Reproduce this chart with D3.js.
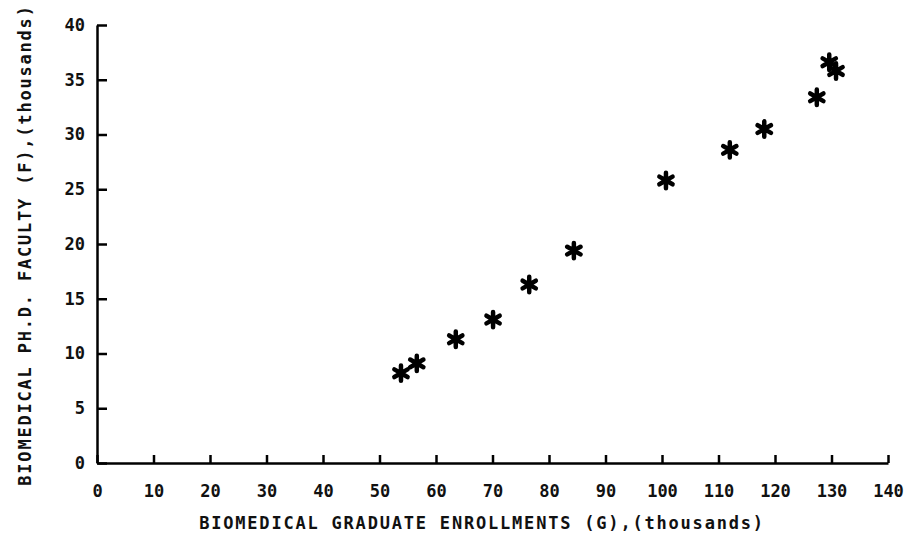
<!DOCTYPE html>
<html>
<head>
<meta charset="utf-8">
<script src="https://cdn.jsdelivr.net/npm/d3@7"></script>
<style>
  body { margin: 0; background: #fff; }
  svg { display: block; }
  .axis text { font-family: 'DejaVu Sans Mono', monospace; font-size: 17px; font-weight: bold; fill: #111; }
  .axis path, .axis line { stroke: #000; stroke-width: 2.5; }
  .axis__label { font-family: 'DejaVu Sans Mono', monospace; font-size: 17px; font-weight: bold; fill: #111; letter-spacing: 1.8px; }
</style>
</head>
<body>
<div class="chart"></div>
<script>
// biomedical graduate enrollments (G), thousands
const enrollments = [53.8, 56.6, 63.5, 70.1, 76.5, 84.4, 100.7, 112.0, 118.1, 127.4, 129.6, 130.8]
// biomedical Ph.D. faculty (F), thousands
const faculty = [8.2, 9.1, 11.3, 13.1, 16.3, 19.4, 25.8, 28.6, 30.5, 33.4, 36.6, 35.8]

const xTicks = [0, 10, 20, 30, 40, 50, 60, 70, 80, 90, 100, 110, 120, 130, 140]
const yTicks = [0, 5, 10, 15, 20, 25, 30, 35, 40]

const X_LABEL = 'BIOMEDICAL GRADUATE ENROLLMENTS (G),(thousands)'
const Y_LABEL = 'BIOMEDICAL PH.D. FACULTY (F),(thousands)'

const W = 913
const H = 539
const margin = {top: 25, right: 25, bottom: 76, left: 97}
const width = W - margin.left - margin.right
const height = H - margin.top - margin.bottom

const data = enrollments.map((g, i) => ({ g, f: faculty[i] }))

const svg = d3.select('.chart').append('svg')
  .attr('width', W)
  .attr('height', H)

const g = svg.append('g')
  .attr('transform', `translate(${margin.left},${margin.top})`)

const scaleX = d3.scaleLinear().domain([0, 140]).range([0, width])
const scaleY = d3.scaleLinear().domain([0, 40]).range([height, 0])

const axisBottom = d3.axisBottom(scaleX)
  .tickValues(xTicks)
  .tickSizeInner(-8)
  .tickSizeOuter(0)
  .tickPadding(22)

const axisLeft = d3.axisLeft(scaleY)
  .tickValues(yTicks)
  .tickSizeInner(-10)
  .tickSizeOuter(0)
  .tickPadding(12)

const x = g.append('g')
  .attr('class', 'axis axis--x')
  .attr('transform', `translate(0,${height})`)
  .call(axisBottom)

const y = g.append('g')
  .attr('class', 'axis axis--y')
  .call(axisLeft)

x.append('text').attr('class', 'axis__label')
  .attr('x', 385)
  .attr('y', 66)
  .attr('text-anchor', 'middle')
  .text(X_LABEL)

y.append('text').attr('class', 'axis__label')
  .attr('transform', 'rotate(-90)')
  .attr('x', -220)
  .attr('y', -66)
  .attr('text-anchor', 'middle')
  .text(Y_LABEL)

const star = d3.symbol().type(d3.symbolAsterisk).size(165)

g.append('g').attr('class', 'g-plot')
  .selectAll('path.item')
  .data(data)
  .join('path')
  .attr('class', 'item')
  .attr('transform', d => `translate(${scaleX(d.g)},${scaleY(d.f)})`)
  .attr('d', star)
  .attr('fill', 'none')
  .attr('stroke', '#000')
  .attr('stroke-width', 4.5)
  .attr('stroke-linecap', 'round')
</script>
</body>
</html>
